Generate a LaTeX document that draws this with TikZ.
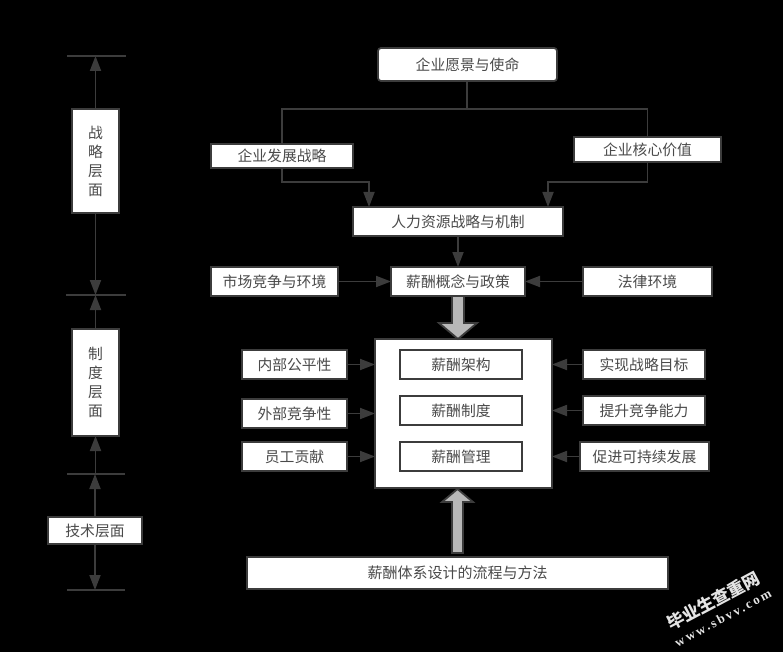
\documentclass[tikz,border=0pt]{standalone}
\usepackage{fontspec}
\setmainfont{Noto Sans CJK SC}
\newfontfamily\markfont{Liberation Serif}[Scale=1]
\usetikzlibrary{arrows.meta,calc}
\definecolor{edgecol}{HTML}{3C3C3C}
\definecolor{txtcol}{HTML}{4A4A4A}
\definecolor{blockfill}{HTML}{B8B8B8}
\definecolor{markcol}{HTML}{E4E4E4}
\tikzset{
  bx/.style={draw=edgecol,fill=white,line width=1.8pt,inner sep=0pt,outer sep=0pt,text=txtcol,
    font=\fontsize{14.8}{21}\selectfont,align=center},
  vbx/.style={bx,font=\fontsize{14.8}{19}\selectfont,minimum width=47pt},
  ln/.style={draw=edgecol,line width=1.8pt},
  arr/.style={ln,-{Triangle[length=15pt,width=11pt]}},
  tick/.style={draw=edgecol,line width=1.4pt},
  blockar/.style={draw=edgecol,fill=blockfill,line width=1.8pt,line join=miter},
  wm/.style={text=markcol,inner sep=0pt,rotate=28}
}
% box from corners: name, x1, y1, x2, y2, text
\newcommand{\pbox}[6]{\node[bx,minimum width=#4pt-#2pt,minimum height=#5pt-#3pt] (#1) at ({(#2+#4)/2},{(#3+#5)/2}) {#6};}
\begin{document}
\begin{tikzpicture}[x=1pt,y=-1pt]
\useasboundingbox (0,0) rectangle (783,652);
\fill[black] (0,0) rectangle (783,652);
% left column
\coordinate (t1a) at (67,56);  \coordinate (t1b) at (126,56);
\coordinate (t2a) at (66,295); \coordinate (t2b) at (126,295);
\coordinate (t3a) at (67,474); \coordinate (t3b) at (125,474);
\coordinate (t4a) at (67,590); \coordinate (t4b) at (125,590);
\draw[tick] (t1a) -- (t1b);
\draw[tick] (t2a) -- (t2b);
\draw[tick] (t3a) -- (t3b);
\draw[tick] (t4a) -- (t4b);
\node[vbx,minimum height=104pt] (zl) at (95.5,161) {战\\略\\层\\面};
\node[vbx,minimum height=107pt] (zd) at (95.5,382.5) {制\\度\\层\\面};
\pbox{js}{48}{517}{142}{544}{技术层面}
\draw[arr] (zl.north) -- (zl.north |- t1a);
\draw[arr] (zl.south) -- (zl.south |- t2a);
\draw[arr] (zd.north) -- (zd.north |- t2a);
\draw[arr] (zd.south |- t3a) -- (zd.south);
\draw[arr] (js.north) -- (js.north |- t3a);
\draw[arr] (js.south) -- (js.south |- t4a);
% top
\node[bx,rounded corners=3pt,minimum width=179pt,minimum height=33pt] (yj) at (467.5,64.5) {企业愿景与使命};
\pbox{fz}{211}{144}{353}{168}{企业发展战略}
\pbox{hx}{574}{137}{721}{162}{企业核心价值}
\pbox{rl}{353}{207}{563}{236}{人力资源战略与机制}
\pbox{gn}{391}{267}{525}{296}{薪酬概念与政策}
\pbox{sc}{211}{267}{338}{296}{市场竞争与环境}
\pbox{fl}{583}{267}{712}{296}{法律环境}
\coordinate (busm) at (467,109);
\coordinate (lowl) at (369,182);
\coordinate (lowr) at (548,182);
\draw[ln] (yj.south -| busm) -- (busm);
\draw[ln] (fz.north) |- (busm) -| (hx.north);
\draw[arr] (fz.south) |- (lowl) -- (lowl |- rl.north);
\draw[arr] (hx.south) |- (lowr) -- (lowr |- rl.north);
\draw[arr] (rl.south) -- (gn.north);
\draw[arr] (sc.east) -- (gn.west);
\draw[arr] (fl.west) -- (gn.east);
% main block
\pbox{mb}{375}{339}{552}{488}{}
\pbox{m1}{400}{350}{522}{379}{薪酬架构}
\pbox{m2}{400}{396}{522}{425}{薪酬制度}
\pbox{m3}{400}{442}{522}{471}{薪酬管理}
\pbox{l1}{242}{350}{347}{379}{内部公平性}
\pbox{l2}{242}{399}{347}{428}{外部竞争性}
\pbox{l3}{242}{442}{347}{471}{员工贡献}
\pbox{r1}{583}{350}{705}{379}{实现战略目标}
\pbox{r2}{583}{396}{705}{425}{提升竞争能力}
\pbox{r3}{580}{442}{709}{471}{促进可持续发展}
\node[bx,font=\fontsize{15}{21}\selectfont,minimum width=421pt,minimum height=32pt] (bt) at (457.5,573) {薪酬体系设计的流程与方法};
\draw[arr] (l1.east) -- (l1.east -| mb.west);
\draw[arr] (l2.east) -- (l2.east -| mb.west);
\draw[arr] (l3.east) -- (l3.east -| mb.west);
\draw[arr] (r1.west) -- (r1.west -| mb.east);
\draw[arr] (r2.west) -- (r2.west -| mb.east);
\draw[arr] (r3.west) -- (r3.west -| mb.east);
% block arrows
\coordinate (dtip) at (gn.south |- mb.north);
\draw[blockar] ($(gn.south)+(-6,0)$) -- ($(dtip)+(-6,-16)$) -- ($(dtip)+(-19,-16)$) -- (dtip)
  -- ($(dtip)+(19,-16)$) -- ($(dtip)+(6,-16)$) -- ($(gn.south)+(6,0)$) -- cycle;
\coordinate (utip) at (457.5,489);
\coordinate (ubot) at (457.5,553);
\draw[blockar] ($(ubot)+(-5.5,0)$) -- ($(utip)+(-5.5,13)$) -- ($(utip)+(-15.5,13)$) -- (utip)
  -- ($(utip)+(15.5,13)$) -- ($(utip)+(5.5,13)$) -- ($(ubot)+(5.5,0)$) -- cycle;
% watermark
\node[wm,font=\fontsize{17}{17}\selectfont\bfseries] (wm1) at (713,601) {毕业生查重网};
\node[wm,font={\markfont\fontsize{13}{13}\selectfont\bfseries\addfontfeature{LetterSpace=18}}] (wm2) at (723,618) {www.sbvv.com};
\end{tikzpicture}
\end{document}
